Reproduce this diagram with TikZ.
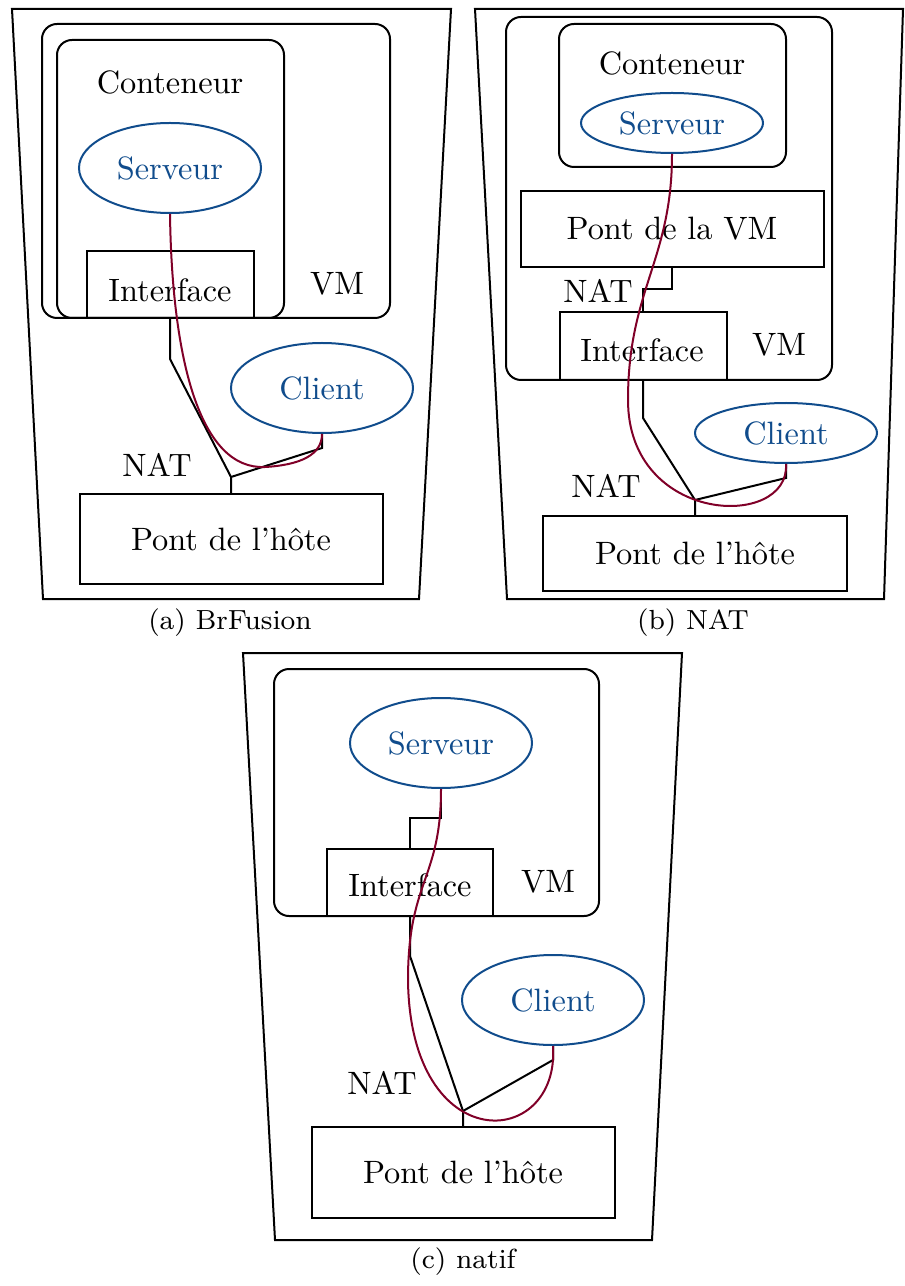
\documentclass[tikz,border=0pt]{standalone}
\usetikzlibrary{shapes.geometric}
\definecolor{srvblue}{RGB}{16,76,140}
\definecolor{linkred}{RGB}{128,0,40}
\begin{document}
\begin{tikzpicture}[x=0.3pt,y=-0.3pt,line width=0.6pt,
  lbl/.style={inner sep=0pt,font=\fontsize{9.7}{11}\selectfont},
  captxt/.style={inner sep=0pt,font=\fontsize{8.3}{10}\selectfont},
  box/.style={draw,rectangle,inner sep=0pt,font=\fontsize{9.7}{11}\selectfont},
  bw/.style={minimum width=#1*0.3pt},
  bh/.style={minimum height=#1*0.3pt},
  ell/.style={draw=srvblue,text=srvblue,ellipse,inner sep=0pt,minimum width=182*0.3pt,font=\fontsize{9.7}{11}\selectfont},
  container/.style={rounded corners=4.5pt},
  link/.style={draw=linkred,line width=0.6pt}]
\useasboundingbox (0,0) rectangle (904,1286);

% ---------------- (a) BrFusion ----------------
\draw (12,9) -- (451,9) -- (419,599) -- (43,599) -- cycle;
\draw[container] (42,24) rectangle (390,318);
\draw[container] (57,40) rectangle (284,318);
\node[lbl] (contA) at (170,82) {Conteneur};
\node[ell,bh=90] (srvA) at (170,168) {Serveur};
\node[box,bw=167,bh=67] (ifA) at (170,284.5) {};
\node[lbl] (ifAt) at (170,290) {Interface};
\node[lbl] (vmA) at (337,284) {VM};
\node[ell,bh=90] (cliA) at (322,388) {Client};
\node[lbl] (natA) at (157,465) {NAT};
\node[box,bw=303,bh=90] (pontA) at (231,539) {Pont de l'hôte};
\node[captxt] (capA) at (230,623) {(a) BrFusion};
\coordinate (a1) at (170,359);
\coordinate (a2) at (231,477);
\coordinate (a3) at (322,448);
\draw (ifA.south) -- (a1) -- (a2) -- (pontA.north);
\draw (a2) -- (a3) -- (cliA.south);
\draw[link] (srvA.south) .. controls (172,360) and (200,470) .. (265,467)
  .. controls (300,465) and (322,455) .. (cliA.south);

% ---------------- (b) NAT ----------------
\draw (475,9) -- (903,9) -- (884,599) -- (507,599) -- cycle;
\draw[container] (506,17) rectangle (832,380);
\draw[container] (559,24) rectangle (786,167);
\node[lbl] (contB) at (672,63) {Conteneur};
\node[ell,bh=60] (srvB) at (672,123) {Serveur};
\node[box,bw=303,bh=76] (pvmB) at (672,229) {Pont de la VM};
\node[lbl] (natB1) at (598,291) {NAT};
\node[box,bw=167,bh=68] (ifB) at (643,346) {};
\node[lbl] (ifBt) at (642,350) {Interface};
\node[lbl] (vmB) at (779,345) {VM};
\node[ell,bh=60] (cliB) at (786,433) {Client};
\node[lbl] (natB2) at (606,486) {NAT};
\node[box,bw=304,bh=75] (pontB) at (695,553.5) {Pont de l'hôte};
\node[captxt] (capB) at (693,623) {(b) NAT};
\coordinate (b1) at (672,289);
\coordinate (b2) at (643,289);
\coordinate (b3) at (643,418);
\coordinate (b4) at (695,500);
\coordinate (b5) at (786,478);
\draw (pvmB.south) -- (b1) -- (b2) -- (ifB.north);
\draw (ifB.south) -- (b3) -- (b4) -- (pontB.north);
\draw (b4) -- (b5) -- (cliB.south);
\draw[link] (srvB.south) .. controls (672,260) and (628,290) .. (628,400)
  .. controls (628,525) and (790,530) .. (cliB.south);

% ---------------- (c) natif ----------------
\draw (243,653) -- (682,653) -- (652,1240) -- (275,1240) -- cycle;
\draw[container] (274,669) rectangle (599,916);
\node[ell,bh=90] (srvC) at (441,743) {Serveur};
\node[box,bw=166,bh=67] (ifC) at (410,882.5) {};
\node[lbl] (ifCt) at (410,885) {Interface};
\node[lbl] (vmC) at (548,882) {VM};
\node[ell,bh=90] (cliC) at (553,1000) {Client};
\node[lbl] (natC) at (382,1083) {NAT};
\node[box,bw=303,bh=91] (pontC) at (463,1172.5) {Pont de l'hôte};
\node[captxt] (capC) at (463,1262) {(c) natif};
\coordinate (c1) at (441,818);
\coordinate (c2) at (410,818);
\coordinate (c3) at (410,956);
\coordinate (c4) at (463,1111);
\coordinate (c5) at (553,1060);
\draw (srvC.south) -- (c1) -- (c2) -- (ifC.north);
\draw (ifC.south) -- (c3) -- (c4) -- (pontC.north);
\draw (c4) -- (c5) -- (cliC.south);
\draw[link] (srvC.south) .. controls (441,880) and (408,880) .. (408,980)
  .. controls (410,1160) and (560,1150) .. (cliC.south);
\end{tikzpicture}
\end{document}
